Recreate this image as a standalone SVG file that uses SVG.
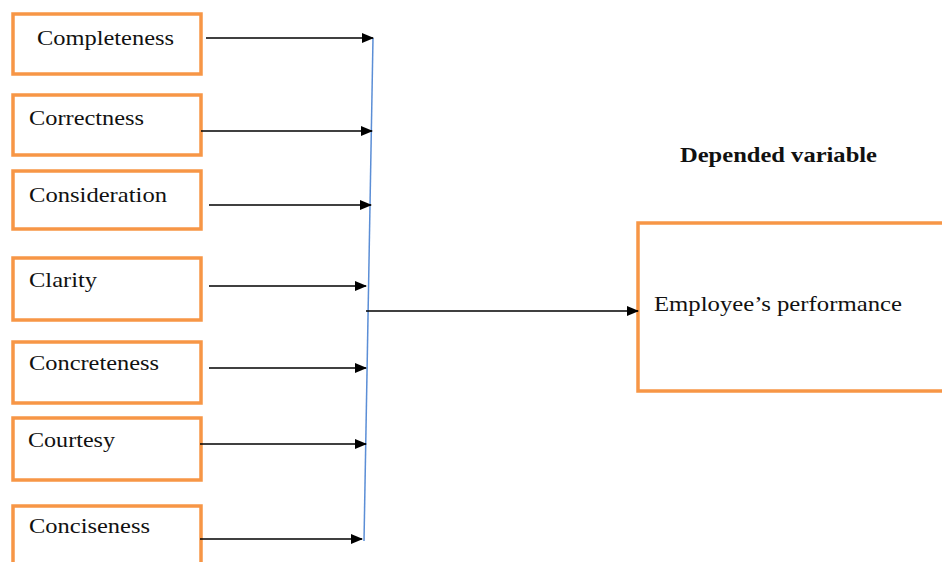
<svg xmlns="http://www.w3.org/2000/svg" width="942" height="562" viewBox="0 0 942 562">
<defs>
<marker id="ah" markerWidth="12" markerHeight="10" refX="11" refY="5" orient="auto" markerUnits="userSpaceOnUse">
<path d="M0,0 L12,5 L0,10 Z" fill="#000"/>
</marker>
<style>
.box{fill:#fff;stroke:#F79646;stroke-width:3.5}
.t{font-family:"Liberation Serif","Times New Roman",serif;font-size:21px;fill:#111}
.b{font-weight:bold}
.c{stroke:#000;stroke-width:1.3;fill:none;marker-end:url(#ah)}
.bl{stroke:#5B8ED6;stroke-width:1.5;fill:none}
</style>
</defs>
<rect width="942" height="562" fill="#fff"/>
<g id="n1"><rect class="box" x="13" y="14" width="188" height="60"/><text class="t" x="37" y="45" textLength="137" lengthAdjust="spacingAndGlyphs">Completeness</text></g>
<g id="n2"><rect class="box" x="13" y="95" width="188" height="60"/><text class="t" x="29" y="125" textLength="115" lengthAdjust="spacingAndGlyphs">Correctness</text></g>
<g id="n3"><rect class="box" x="13" y="171" width="188" height="58"/><text class="t" x="29" y="202" textLength="138" lengthAdjust="spacingAndGlyphs">Consideration</text></g>
<g id="n4"><rect class="box" x="13" y="258" width="188" height="62"/><text class="t" x="29" y="287" textLength="68" lengthAdjust="spacingAndGlyphs">Clarity</text></g>
<g id="n5"><rect class="box" x="13" y="342" width="188" height="61"/><text class="t" x="29" y="370" textLength="130" lengthAdjust="spacingAndGlyphs">Concreteness</text></g>
<g id="n6"><rect class="box" x="13" y="418" width="188" height="62"/><text class="t" x="28" y="447" textLength="87" lengthAdjust="spacingAndGlyphs">Courtesy</text></g>
<g id="n7"><rect class="box" x="13" y="506" width="188" height="70"/><text class="t" x="29" y="533" textLength="121" lengthAdjust="spacingAndGlyphs">Conciseness</text></g>
<g id="out"><rect class="box" x="638" y="223" width="320" height="168"/><text class="t" x="654" y="311" textLength="248" lengthAdjust="spacingAndGlyphs">Employee’s performance</text></g>
<g id="label"><text class="t b" x="680" y="162" textLength="197" lengthAdjust="spacingAndGlyphs">Depended variable</text></g>
<g id="connectors">
<line class="bl" x1="373" y1="38" x2="364" y2="541"/>
<line class="c" x1="206" y1="38" x2="373" y2="38"/>
<line class="c" x1="201" y1="131" x2="372" y2="131"/>
<line class="c" x1="209" y1="205" x2="371" y2="205"/>
<line class="c" x1="209" y1="286" x2="366" y2="286"/>
<line class="c" x1="209" y1="368" x2="366" y2="368"/>
<line class="c" x1="200" y1="444" x2="366" y2="444"/>
<line class="c" x1="200" y1="539" x2="362" y2="539"/>
<line class="c" x1="366" y1="311" x2="638" y2="311"/>
</g>
</svg>
